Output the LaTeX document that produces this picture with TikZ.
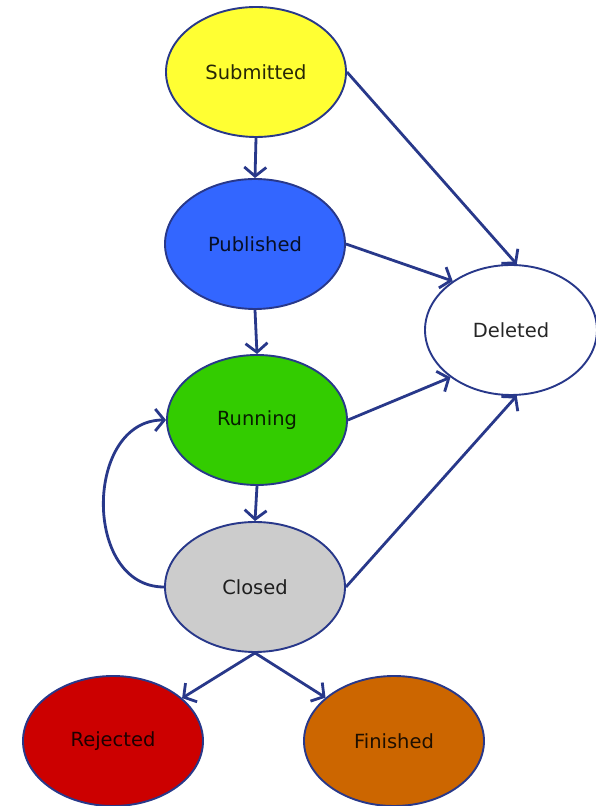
\documentclass[tikz,border=0pt]{standalone}
\usepackage{fontspec}
\setmainfont{DejaVu Sans}
\usepackage{tikz}
\usetikzlibrary{shapes.geometric,arrows.meta}
\definecolor{edgeblue}{RGB}{40,56,138}
\definecolor{subyellow}{RGB}{255,255,51}
\definecolor{pubblue}{RGB}{51,102,255}
\definecolor{rungreen}{RGB}{51,204,0}
\definecolor{closgray}{RGB}{204,204,204}
\definecolor{rejred}{RGB}{204,0,0}
\definecolor{finorange}{RGB}{204,102,0}

\begin{document}
\begin{tikzpicture}[x=1pt,y=1pt,
  state/.style={ellipse, draw=edgeblue, line width=1.9pt, minimum width=180pt,
    minimum height=130pt, inner sep=0pt, text opacity=0.85,
    font=\fontsize{19.5}{23}\selectfont},
  trans/.style={draw=edgeblue, line width=2.8pt,
    -{Straight Barb[length=9pt,width=22pt]}}]
\useasboundingbox (0,0) rectangle (595,806);
%% States
\node[state, fill=subyellow] (sub) at (256,734) {Submitted};
\node[state, fill=pubblue]   (pub) at (255,562) {Published};
\node[state, fill=rungreen]  (run) at (257,386) {Running};
\node[state, fill=closgray]  (clo) at (255,219) {Closed};
\node[state, fill=white, minimum width=172pt] (del) at (511,476) {Deleted};
\node[state, fill=rejred]    (rej) at (113,65) {Rejected};
\node[state, fill=finorange] (fin) at (394,65) {Finished};
%% Main line
\draw[trans] (sub.south) -- (pub.north);
\draw[trans] (pub.south) -- (run.north);
\draw[trans] (run.south) -- (clo.north);
%% Deletion
\draw[trans] (sub.east) -- (del.85);
\draw[trans] (pub.east) -- (del.140);
\draw[trans] (run.east) -- (del.218);
\draw[trans] (clo.east) -- (del.-85);
%% Reopen
\draw[trans] (clo.west) to[out=180,in=180,looseness=1.25] (run.west);
%% Outcome
\draw[trans] (clo.south) -- (rej);
\draw[trans] (clo.south) -- (fin);
\end{tikzpicture}
\end{document}
